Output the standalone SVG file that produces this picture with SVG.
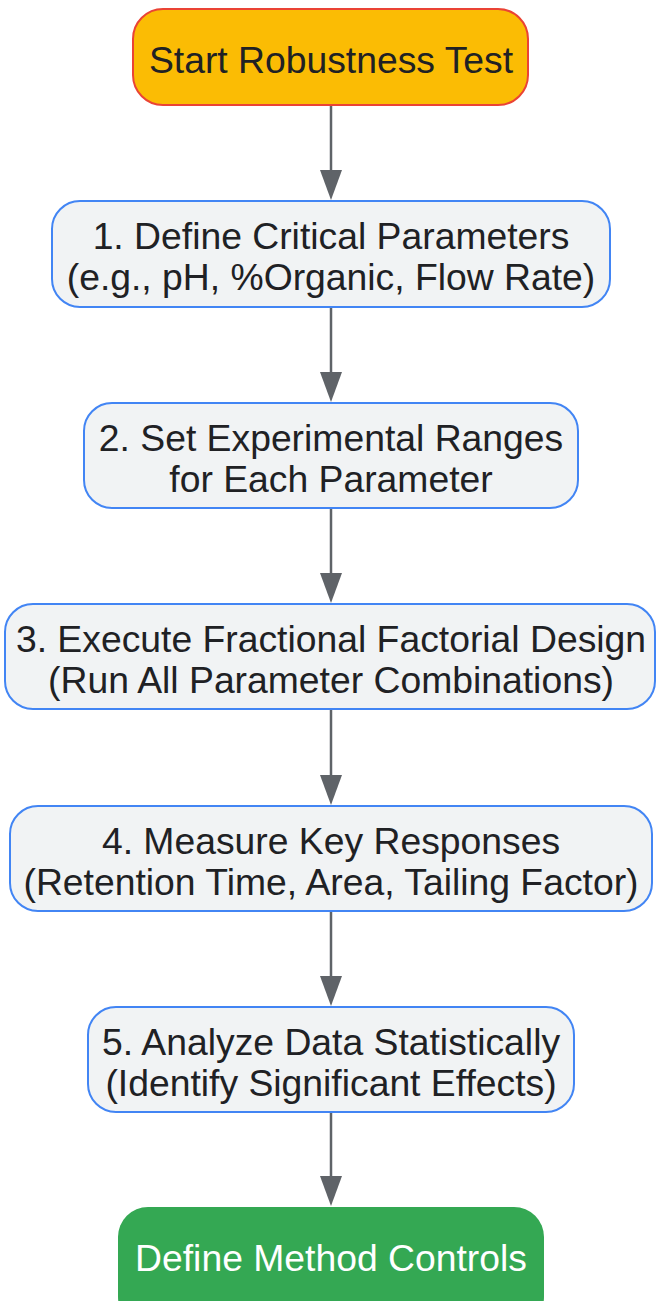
<svg xmlns="http://www.w3.org/2000/svg" width="656" height="1301" viewBox="0 0 656 1301">
<style>
.t{font-family:"Liberation Sans",Arial,sans-serif;font-size:37.3px;fill:#202124;text-anchor:middle}
.w{fill:#ffffff}
.p{fill:#F1F3F4;stroke:#4285F4;stroke-width:2}
.e{stroke:#5F6368;stroke-width:2.5;fill:none}
.h{fill:#5F6368}
</style>
<rect width="656" height="1301" fill="#ffffff"/>
<g id="connectors">
<line class="e" x1="331" y1="105" x2="331" y2="170"/><path class="h" d="M320,170 L342,170 L331,200 Z"/>
<line class="e" x1="331" y1="307" x2="331" y2="372"/><path class="h" d="M320,372 L342,372 L331,402 Z"/>
<line class="e" x1="331" y1="508" x2="331" y2="573"/><path class="h" d="M320,573 L342,573 L331,603 Z"/>
<line class="e" x1="331" y1="709" x2="331" y2="775"/><path class="h" d="M320,775 L342,775 L331,805 Z"/>
<line class="e" x1="331" y1="911" x2="331" y2="976"/><path class="h" d="M320,976 L342,976 L331,1006 Z"/>
<line class="e" x1="331" y1="1112" x2="331" y2="1176"/><path class="h" d="M320,1176 L342,1176 L331,1206 Z"/>
</g>
<g id="start">
<rect x="133" y="9" width="395" height="96" rx="30" fill="#FBBC04" stroke="#EA4335" stroke-width="2"/>
<text class="t" x="331" y="73">Start Robustness Test</text>
</g>
<g id="step1">
<rect class="p" x="52" y="201" width="558" height="106" rx="28"/>
<text class="t" x="331" y="249">1. Define Critical Parameters</text>
<text class="t" x="331" y="290">(e.g., pH, %Organic, Flow Rate)</text>
</g>
<g id="step2">
<rect class="p" x="84" y="403" width="494" height="105" rx="28"/>
<text class="t" x="331" y="451">2. Set Experimental Ranges</text>
<text class="t" x="331" y="492">for Each Parameter</text>
</g>
<g id="step3">
<rect class="p" x="5" y="604" width="650" height="105" rx="28"/>
<text class="t" x="331" y="652">3. Execute Fractional Factorial Design</text>
<text class="t" x="331" y="693">(Run All Parameter Combinations)</text>
</g>
<g id="step4">
<rect class="p" x="10" y="806" width="642" height="105" rx="28"/>
<text class="t" x="331" y="854">4. Measure Key Responses</text>
<text class="t" x="331" y="895">(Retention Time, Area, Tailing Factor)</text>
</g>
<g id="step5">
<rect class="p" x="88" y="1007" width="486" height="105" rx="28"/>
<text class="t" x="331" y="1055">5. Analyze Data Statistically</text>
<text class="t" x="331" y="1096">(Identify Significant Effects)</text>
</g>
<g id="end">
<rect x="118" y="1207" width="426" height="120" rx="30" fill="#34A853"/>
<text class="t w" x="331" y="1271">Define Method Controls</text>
</g>
</svg>
